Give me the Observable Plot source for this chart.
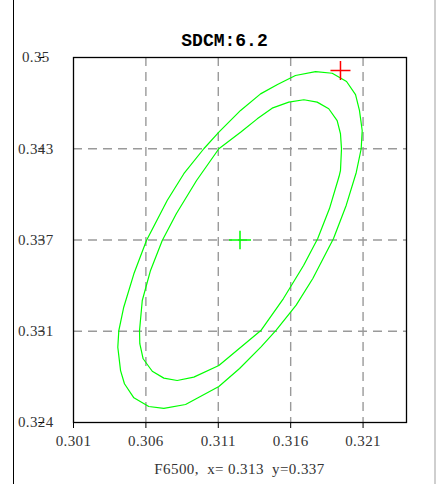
<!DOCTYPE html>
<html><head><meta charset="utf-8">
<script src="https://cdn.jsdelivr.net/npm/d3@7"></script>
<script src="https://cdn.jsdelivr.net/npm/@observablehq/plot@0.6"></script>
<style>
html,body{margin:0;padding:0;background:#fff;}
#wrap{position:relative;width:436px;height:484px;overflow:hidden;background:#fff;}
#lb{position:absolute;left:12.5px;top:0;width:1.2px;height:484px;background:#000;}
#rb{position:absolute;left:434px;top:0;width:2px;height:484px;background:#cfcfcf;}
#title{position:absolute;left:13px;width:423px;top:32px;text-align:center;font-family:"Liberation Mono",monospace;font-weight:bold;font-size:18px;line-height:18px;color:#000;}
#caption{position:absolute;left:73px;width:333px;top:461px;text-align:center;font-family:"Liberation Serif",serif;font-size:15px;line-height:16px;color:#333;white-space:pre;letter-spacing:0.4px;}
#chart{position:absolute;left:0;top:0;}
</style></head>
<body>
<div id="wrap">
  <div id="lb"></div><div id="rb"></div>
  <div id="chart"></div>
  <div id="title"></div>
  <div id="caption"></div>
</div>
<script>
const titleText = "SDCM:6.2";
const captionText = "F6500,  x= 0.313  y=0.337";

const xDomain = [0.301, 0.324];
const yDomain = [0.324, 0.35];
const xTicks = [0.301, 0.306, 0.311, 0.316, 0.321];
const xTickLabels = ["0.301", "0.306", "0.311", "0.316", "0.321"];
const yTicks = [0.324, 0.3305, 0.337, 0.3435, 0.35];
const yTickLabels = ["0.324", "0.331", "0.337", "0.343", "0.35"];

// outer ellipse
const outerX = [0.31772,0.31887,0.31986,0.32048,0.32075,0.32094,0.32087,0.32053,0.31984,0.31896,0.31753,0.31638,0.31500,0.31397,0.31247,0.31104,0.30874,0.30724,0.30620,0.30517,0.30452,0.30425,0.30406,0.30413,0.30447,0.30517,0.30604,0.30747,0.30862,0.31000,0.31104,0.31254,0.31392,0.31509,0.31633];
const outerY = [0.34900,0.34888,0.34829,0.34736,0.34623,0.34480,0.34350,0.34181,0.33948,0.33711,0.33426,0.33236,0.33058,0.32940,0.32785,0.32656,0.32528,0.32500,0.32514,0.32576,0.32676,0.32770,0.32936,0.33055,0.33221,0.33459,0.33696,0.33981,0.34172,0.34350,0.34468,0.34623,0.34741,0.34808,0.34872];
// inner ellipse
const innerX = [0.31691,0.31783,0.31863,0.31921,0.31944,0.31951,0.31944,0.31934,0.31868,0.31787,0.31689,0.31550,0.31394,0.31104,0.30931,0.30816,0.30724,0.30644,0.30581,0.30558,0.30556,0.30575,0.30632,0.30713,0.30811,0.30950,0.31104,0.31254,0.31369,0.31472,0.31587];
const innerY = [0.34699,0.34682,0.34635,0.34551,0.34457,0.34350,0.34195,0.34152,0.33924,0.33711,0.33518,0.33283,0.33055,0.32806,0.32723,0.32699,0.32716,0.32765,0.32854,0.32961,0.33055,0.33269,0.33483,0.33696,0.33889,0.34124,0.34350,0.34468,0.34563,0.34639,0.34682];

const centerX = [0.3125];
const centerY = [0.337];
const refX = [0.31944];
const refY = [0.34907];

const outer = outerX.map((x, i) => ({x, y: outerY[i]}));
const inner = innerX.map((x, i) => ({x, y: innerY[i]}));
const center = centerX.map((x, i) => ({x, y: centerY[i]}));
const ref = refX.map((x, i) => ({x, y: refY[i]}));

const crossSymbol = (vr) => ({
  draw(ctx, size) {
    const r = Math.sqrt(size / Math.PI);
    ctx.moveTo(-r, 0); ctx.lineTo(r, 0);
    ctx.moveTo(0, -r * vr); ctx.lineTo(0, r * vr);
  }
});

const chart = Plot.plot({
  width: 436,
  height: 450,
  marginTop: 57,
  marginBottom: 28,
  marginLeft: 73,
  marginRight: 30,
  x: {domain: xDomain},
  y: {domain: yDomain},
  style: {fontFamily: "'Liberation Serif', serif", fontSize: "15px", letterSpacing: "0.4px", color: "#333", background: "transparent", overflow: "visible"},
  marks: [
    Plot.gridX(xTicks.slice(1), {stroke: "#9a9a9a", strokeOpacity: 1, strokeWidth: 1.4, strokeDasharray: "9,6"}),
    Plot.gridY(yTicks.slice(1, -1), {stroke: "#9a9a9a", strokeOpacity: 1, strokeWidth: 1.4, strokeDasharray: "9,6"}),
    Plot.line(outer, {x: "x", y: "y", curve: "linear-closed", stroke: "#00ff00", strokeWidth: 1.2}),
    Plot.line(inner, {x: "x", y: "y", curve: "linear-closed", stroke: "#00ff00", strokeWidth: 1.2}),
    Plot.dot(center, {x: "x", y: "y", r: 11, symbol: crossSymbol(0.85), fill: "none", stroke: "#00ff00", strokeWidth: 1.5}),
    Plot.dot(ref, {x: "x", y: "y", r: 10, symbol: crossSymbol(0.95), fill: "none", stroke: "#ff0000", strokeWidth: 1.5}),
    Plot.frame({stroke: "#000", strokeWidth: 1.3}),
    Plot.axisX(xTicks, {tickSize: 6, tickPadding: 7, stroke: "#000", fill: "#333", label: null,
      tickFormat: d => xTickLabels[xTicks.indexOf(d)]}),
    Plot.axisY(yTicks, {tickSize: 6, tickPadding: 3, stroke: "#000", fill: "#333", label: null,
      textAnchor: "middle", dx: -28.7, tickFormat: d => yTickLabels[yTicks.indexOf(d)]})
  ]
});
document.getElementById("chart").appendChild(chart);
document.getElementById("title").textContent = titleText;
document.getElementById("caption").textContent = captionText;
</script>
</body></html>
